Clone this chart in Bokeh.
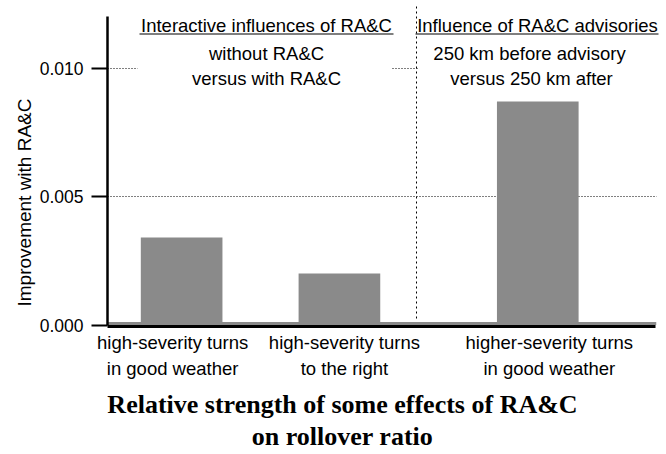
from bokeh.plotting import figure
from bokeh.models import (Range1d, FixedTicker, Label, BoxAnnotation,
                          LinearAxis, Title)
from bokeh.embed import file_html
from bokeh.resources import INLINE

# ---- data ----
cat_line1 = ["high-severity turns", "high-severity turns", "higher-severity turns"]
cat_line2 = ["in good weather", "to the right", "in good weather"]
values = [0.0034, 0.0020, 0.0087]
bar_pos = [14.8, 46.3, 85.9]
label_pos = [13.0, 47.3, 88.2]
y_ticks = [0.0, 0.005, 0.010]
y_tick_labels = ["0.000", "0.005", "0.010"]
y_label = "Improvement with RA&C"
left_head = ["Interactive influences of RA&C", "without RA&C", "versus with RA&C"]
right_head = ["Influence of RA&C advisories", "250 km before advisory", "versus 250 km after"]
title_lines = ["Relative strength of some effects of RA&C", "on rollover ratio"]

# ---- pixel helpers (layout only) ----
PX_X = 5.009      # px per x unit
PX_Y = 25700.0    # px per y unit
X_LEFT = 107.0    # canvas x of frame left
Y_ZERO = 324.5    # canvas y of value 0

def xd(px):
    return (px - X_LEFT) / PX_X

def yd(py):
    return (Y_ZERO - py) / PX_Y

SANS = "Liberation Sans"
SERIF = "Liberation Serif"
BAR_FILL = "#8a8a8a"

p = figure(width=666, height=454, x_range=Range1d(0, xd(658)),
           y_range=Range1d(yd(326), yd(3)),
           output_backend="svg", toolbar_location=None,
           min_border_left=107, min_border_right=8, min_border_top=3,
           min_border_bottom=128)
p.outline_line_color = None
p.background_fill_color = "white"
p.border_fill_color = "white"

def no_ticks(ax):
    ax.major_tick_line_color = None
    ax.minor_tick_line_color = None
    ax.major_tick_out = 0
    ax.major_tick_in = 0
    ax.minor_tick_out = 0

# x axis: category labels, line 1
p.xaxis.ticker = FixedTicker(ticks=label_pos)
p.xaxis.major_label_overrides = {x: t for x, t in zip(label_pos, cat_line1)}
p.xaxis.major_label_text_font = SANS
p.xaxis.major_label_text_font_size = "18.5px"
p.xaxis.major_label_text_color = "black"
p.xaxis.major_label_standoff = 5
no_ticks(p.xaxis[0])
p.xaxis.axis_line_width = 3
p.xaxis.axis_line_color = "black"
p.xaxis.bounds = (0, xd(655))
p.xgrid.visible = False

def text_axis(ticks, labels, font, size, style, standoff):
    ax = LinearAxis(ticker=FixedTicker(ticks=ticks),
                    major_label_overrides={x: t for x, t in zip(ticks, labels)},
                    major_label_text_font=font, major_label_text_font_size=size,
                    major_label_text_font_style=style,
                    major_label_text_color="black", major_label_standoff=standoff,
                    axis_line_color=None)
    no_ticks(ax)
    p.add_layout(ax, "below")
    return ax

# second row of category labels
text_axis(label_pos, cat_line2, SANS, "18.5px", "normal", 2)

# chart title, two centred lines below the axes
title_x = [xd(342)]
text_axis(title_x, title_lines[:1], SERIF, "26px", "bold", 8)
text_axis(title_x, title_lines[1:], SERIF, "26px", "bold", 0)

# y axis
p.yaxis.ticker = FixedTicker(ticks=y_ticks)
p.yaxis.major_label_overrides = {t: l for t, l in zip(y_ticks, y_tick_labels)}
p.yaxis.major_label_text_font = SANS
p.yaxis.major_label_text_font_size = "17.5px"
p.yaxis.major_label_text_color = "black"
p.yaxis.major_label_standoff = 8
p.yaxis.major_tick_out = 16
p.yaxis.major_tick_in = 0
p.yaxis.major_tick_line_width = 2
p.yaxis.major_tick_line_color = "black"
p.yaxis.minor_tick_line_color = None
p.yaxis.axis_line_width = 2.5
p.yaxis.axis_line_color = "black"
p.yaxis.bounds = (0, 0.012)

p.add_layout(Title(text=y_label, align="left", offset=20, text_font=SANS,
                   text_font_size="19px", text_font_style="normal",
                   text_color="black", standoff=4), "left")

p.ygrid.ticker = FixedTicker(ticks=y_ticks[1:])
p.ygrid.grid_line_color = "black"
p.ygrid.grid_line_dash = "1 2"
p.ygrid.grid_line_width = 1

# baseline band
p.add_layout(BoxAnnotation(left=0, right=xd(656), bottom=0, top=yd(321.5),
                           fill_color=BAR_FILL, fill_alpha=1, line_color=None,
                           level="underlay"))

# bars
p.vbar(x=bar_pos, top=values, bottom=0, width=16.3,
       fill_color=BAR_FILL, line_color=None)

# cover grid beyond the axis end
p.add_layout(BoxAnnotation(left=xd(656), fill_color="white", fill_alpha=1,
                           line_color=None, level="glyph"))

# white boxes behind header text (hide gridline)
p.add_layout(BoxAnnotation(left=xd(137), right=xd(391), top=yd(10), bottom=yd(90),
                           fill_color="white", fill_alpha=1, line_color=None))
p.add_layout(BoxAnnotation(left=xd(418), right=xd(658), top=yd(10), bottom=yd(90),
                           fill_color="white", fill_alpha=1, line_color=None))

# divider
p.segment(x0=[xd(416)], x1=[xd(416)], y0=[yd(318)], y1=[yd(4)],
          line_color="black", line_dash="2 3", line_width=1)

def add_text(x, y, txt, size):
    p.add_layout(Label(x=x, y=y, text=txt, text_font=SANS,
                       text_font_size=size, text_align="center",
                       text_baseline="alphabetic", text_color="black"))

hy = [25, 53, 78]
for i, t in enumerate(left_head):
    add_text(xd(266), yd(hy[i]), t, "18.5px")
rx = [537, 529, 531]
for i, t in enumerate(right_head):
    add_text(xd(rx[i]), yd(hy[i]), t, "18.5px")

# underlines
p.segment(x0=[xd(139), xd(415)], x1=[xd(393), xd(658)],
          y0=[yd(33.5), yd(33.5)], y1=[yd(33.5), yd(33.5)],
          line_color="black", line_width=1.2, level="overlay")

open("out.html", "w").write(file_html(p, INLINE))
